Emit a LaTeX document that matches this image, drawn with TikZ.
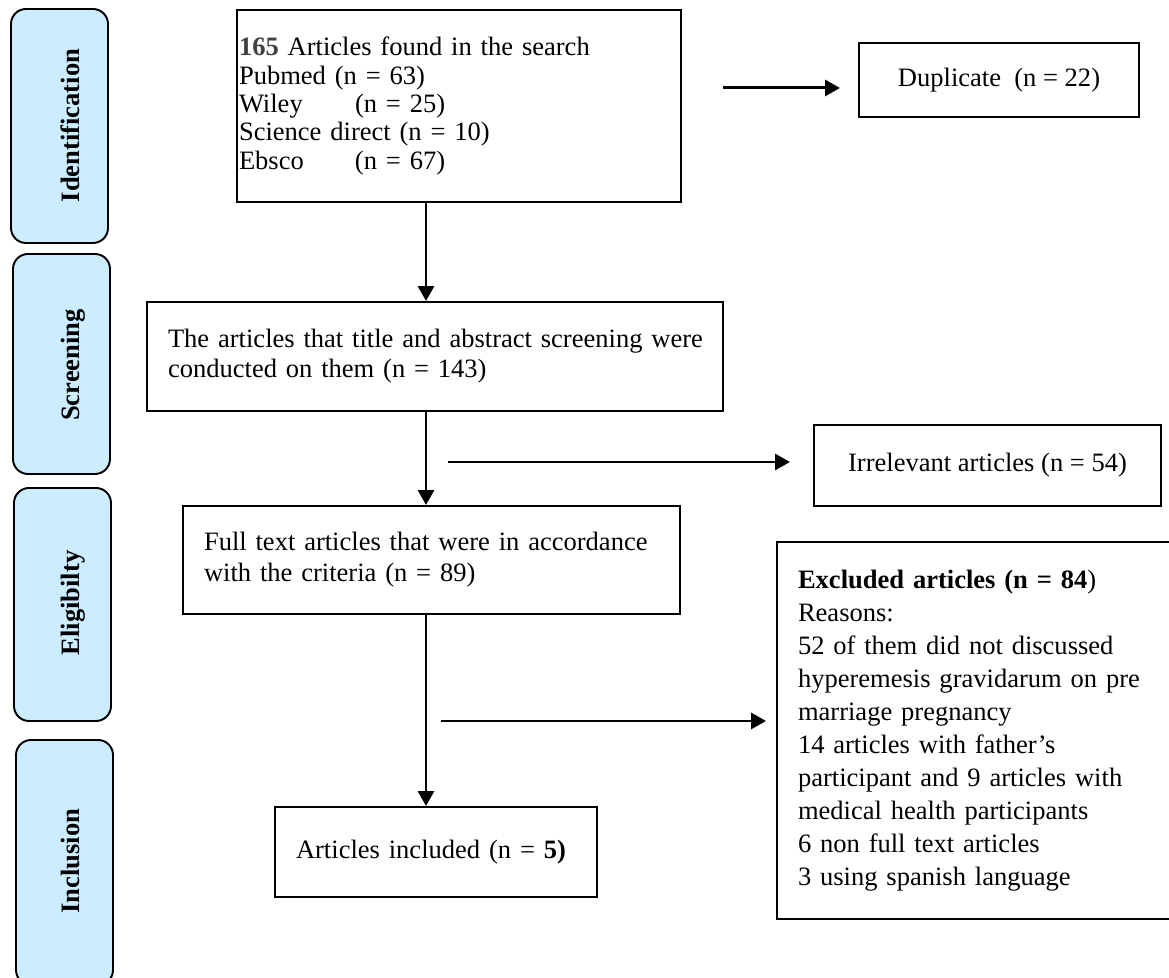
\documentclass[tikz,border=0pt]{standalone}
\usepackage{fontspec}
\setmainfont{Liberation Serif}
\usetikzlibrary{arrows.meta}
\usetikzlibrary{calc}
\definecolor{stageblue}{RGB}{204,236,255}
\definecolor{numgray}{RGB}{64,64,64}

\begin{document}
\begin{tikzpicture}
\tikzstyle{box}=[draw,line width=1.1pt,inner ysep=0pt,inner xsep=0.42cm,align=left,font=\fontsize{15.1pt}{17.6pt}\selectfont]
\tikzstyle{stage}=[draw,line width=1.1pt,rounded corners=0.3cm,fill=stageblue,minimum width=1.94cm]
\tikzstyle{stagelabel}=[rotate=90,anchor=base,inner sep=0pt,font=\fontsize{15.1pt}{17pt}\selectfont\bfseries]
\tikzstyle{arr}=[line width=1.7pt,-{Triangle[length=0.3cm,width=0.32cm]}]
\useasboundingbox (0,0) rectangle (23.38,19.54);
% stages
\node [stage,minimum height=4.68cm] (idbox) at (1.19,17.02) {};
\node [stage,minimum height=4.40cm] (scbox) at (1.23,12.26) {};
\node [stage,minimum height=4.66cm] (elbox) at (1.25,7.45) {};
\node [stage,minimum height=4.90cm] (inbox) at (1.29,2.29) {};
\node [stagelabel] (idlab) at (1.58,17.03) {Identification};
\node [stagelabel] (sclab) at (1.58,12.24) {Screening};
\node [stagelabel] (ellab) at (1.58,7.48) {Eligibilty};
\node [stagelabel] (inlab) at (1.58,2.32) {Inclusion};
% boxes
\node [box,inner xsep=0.04cm,text width=8.80cm,minimum height=3.84cm,font=\fontsize{15.1pt}{16.1pt}\selectfont] (search) at (9.18,17.42)
  {{\bfseries\color{numgray}165} Articles found in the search\\
   Pubmed (n = 63)\\
   \makebox[2.32cm][l]{Wiley}(n = 25)\\
   Science direct (n = 10)\\
   \makebox[2.32cm][l]{Ebsco}(n = 67)};
\node [box,align=center,minimum width=5.6cm,minimum height=1.48cm] (dup) at (19.98,17.94) {Duplicate\ \ (n = 22)};
\node [box,text width=10.68cm,minimum height=2.18cm,font=\fontsize{15.1pt}{17.1pt}\selectfont] (screen) at (8.70,12.41)
  {\mbox{The articles that title and abstract screening were}\\ conducted on them (n = 143)};
\node [box,align=center,minimum width=6.94cm,minimum height=1.62cm] (irrel) at (19.75,10.23) {Irrelevant articles (n = 54)};
\node [box,text width=9.10cm,minimum height=2.16cm] (full) at (8.63,8.34)
  {Full text articles that were in accordance\\ with the criteria (n = 89)};
\node [box,text width=7.32cm,minimum height=7.54cm,font=\fontsize{15.1pt}{18.8pt}\selectfont] (excl) at (19.62,4.93)
  {\textbf{Excluded articles (n = 84})\\
   Reasons:\\
   52 of them did not discussed\\
   hyperemesis gravidarum on pre\\
   marriage pregnancy\\
   14 articles with father’s\\
   participant and 9 articles with\\
   medical health participants\\
   6 non full text articles\\
   3 using spanish language};
\node [box,text width=5.60cm,minimum height=1.8cm] (incl) at (8.72,2.5) {Articles included (n = \textbf{5)}};
% arrows
\coordinate (colx) at (8.52,0);
\draw [arr] (search.south -| colx) -- (screen.north -| colx);
\draw [arr] (screen.south -| colx) -- (full.north -| colx);
\draw [arr] (full.south -| colx) -- (incl.north -| colx);
\coordinate (dupfrom) at (14.46,17.78);
\coordinate (irrfrom) at (8.96,10.30);
\coordinate (exfrom) at (8.82,5.12);
\draw [arr] (dupfrom) -- ($(dup.west |- dupfrom)+(-0.36,0)$);
\draw [arr] (irrfrom) -- ($(irrel.west |- irrfrom)+(-0.46,0)$);
\draw [arr] (exfrom) -- ($(excl.west |- exfrom)+(-0.20,0)$);
\end{tikzpicture}
\end{document}
